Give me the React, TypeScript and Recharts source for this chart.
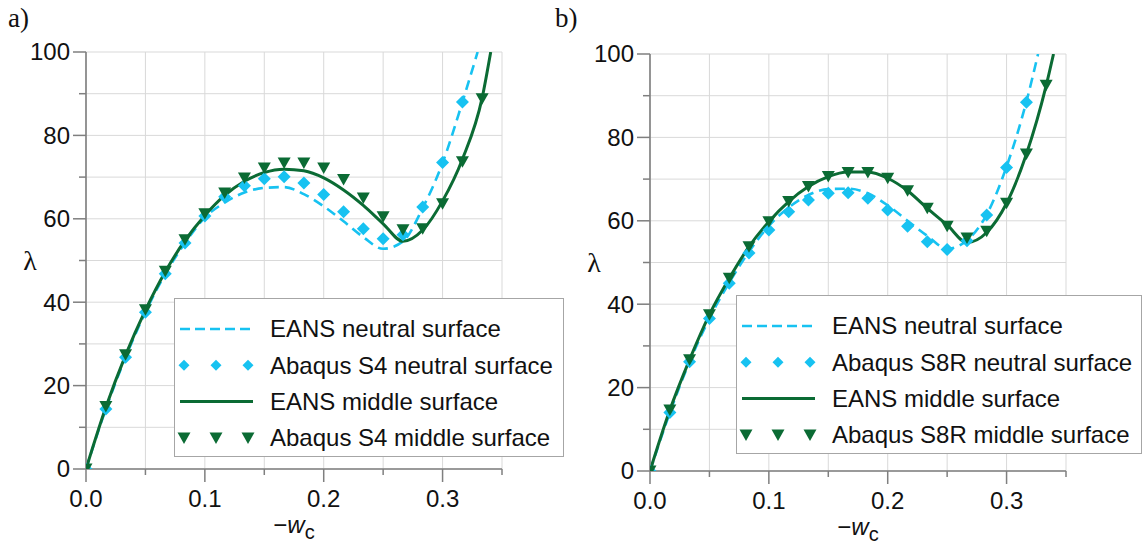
import React from 'react';
import { ComposedChart, Line, Scatter, XAxis, YAxis, CartesianGrid, Legend } from 'recharts';

// -w_c positions of the Abaqus increments
const wSteps = [0, 0.0167, 0.0333, 0.05, 0.0667, 0.0833, 0.1, 0.1167, 0.1333, 0.15, 0.1667,
  0.1833, 0.2, 0.2167, 0.2333, 0.25, 0.2667, 0.2833, 0.3, 0.3167, 0.3333];
const wTicks = [0, 0.05, 0.1, 0.15, 0.2, 0.25, 0.3, 0.35];
const lambdaTicks = [0, 10, 20, 30, 40, 50, 60, 70, 80, 90, 100];

// a) S4
const eansNeutralA = [0, 14.4, 26.8, 37.6, 46.8, 54.2, 60.3, 63.9, 66.3, 67.4, 67.6, 65.9, 63.0, 59.4, 55.6, 52.8, 54.6, 62.6, 73.4, 88.0];
const eansNeutralEndA = 0.3295;
const eansMiddleA = [0, 14.8, 27.3, 38.1, 47.3, 54.8, 60.8, 65.6, 69.0, 71.1, 71.9, 71.5, 69.8, 66.9, 63.2, 58.8, 54.6, 57.3, 64.3, 74.3, 89.0];
const eansMiddleEndA = 0.3405;
const abaqusNeutralA = [0, 14.4, 26.8, 37.6, 46.8, 54.2, 60.7, 65.3, 67.9, 69.6, 70.1, 68.6, 65.8, 61.7, 57.6, 55.2, 56.2, 62.8, 73.5, 88.0];
const abaqusMiddleA = [0, 15.0, 27.4, 38.2, 47.4, 55.0, 61.2, 66.2, 69.8, 72.2, 73.4, 73.4, 72.2, 69.4, 65.0, 60.5, 57.4, 57.6, 63.6, 73.7, 88.8];

// b) S8R
const eansNeutralB = [0, 14.0, 26.2, 36.6, 45.2, 52.6, 58.8, 63.2, 66.2, 67.6, 67.7, 66.6, 63.7, 60.0, 56.4, 53.3, 55.3, 61.5, 73.0, 88.6];
const eansNeutralEndB = 0.3265;
const eansMiddleB = [0, 14.6, 26.7, 37.5, 46.2, 53.8, 59.8, 64.6, 68.2, 70.6, 71.7, 71.7, 70.2, 67.2, 63.0, 59.0, 54.8, 57.2, 64.2, 76.0, 92.4];
const eansMiddleEndB = 0.3395;
const abaqusNeutralB = [0, 14.0, 26.2, 36.6, 45.0, 52.3, 57.8, 62.2, 65.0, 66.6, 66.7, 65.4, 62.6, 58.7, 55.0, 53.1, 55.2, 61.4, 72.8, 88.4];
const abaqusMiddleB = [0, 14.6, 26.7, 37.5, 46.2, 53.8, 59.8, 64.6, 68.2, 70.6, 71.6, 71.6, 70.2, 67.2, 63.0, 58.7, 55.9, 57.5, 64.2, 76.0, 92.5];

const CYAN = '#17c2f1';
const GREEN = '#0b6b34';
const AXIS = '#7f7f7f';
const FONT = '"Liberation Sans", Arial, sans-serif';

const points = (ys: number[]) => ys.map((y, i) => ({ w: wSteps[i], lambda: y }));
const curve = (ys: number[], endW: number) => [...points(ys), { w: endW, lambda: 100 }];

const Diamond = ({ cx, cy, size = 6.5, fill = CYAN }: any) => (
  <polygon points={`${cx},${cy - size} ${cx + size},${cy} ${cx},${cy + size} ${cx - size},${cy}`} fill={fill} />
);
const DownTriangle = ({ cx, cy, fill = GREEN }: any) => (
  <polygon points={`${cx - 6.5},${cy - 5.5} ${cx + 6.5},${cy - 5.5} ${cx},${cy + 6}`} fill={fill} />
);

const XTick = ({ x, y, payload }: any) => {
  const v = payload.value;
  const major = Math.abs(v * 10 - Math.round(v * 10)) < 1e-6;
  return (
    <g>
      <line x1={x} y1={y} x2={x} y2={y + (major ? 13 : 6)} stroke={AXIS} strokeWidth={1.5} />
      {major && (
        <text x={x} y={y + 38} textAnchor="middle" fontSize={24} fontFamily={FONT} fill="#111">
          {v.toFixed(1)}
        </text>
      )}
    </g>
  );
};

const YTick = ({ x, y, payload }: any) => {
  const v = payload.value;
  const major = v % 20 === 0;
  return (
    <g>
      <line x1={x} y1={y} x2={x - (major ? 13 : 7)} y2={y} stroke={AXIS} strokeWidth={1.5} />
      {major && (
        <text x={x - 16} y={y} dy="0.35em" textAnchor="end" fontSize={24} fontFamily={FONT} fill="#111">
          {v}
        </text>
      )}
    </g>
  );
};

const XTitle = ({ viewBox }: any) => {
  const cx = viewBox.x + viewBox.width / 2;
  const y = viewBox.y + 64;
  return (
    <text x={cx} y={y} textAnchor="middle" fontSize={24} fontFamily={FONT} fill="#111">
      <tspan>−</tspan>
      <tspan fontStyle="italic">w</tspan>
      <tspan fontSize={20} dy={6}>c</tspan>
    </text>
  );
};

const YTitle = ({ viewBox }: any) => {
  const x = viewBox.x + viewBox.width - 56;
  const y = viewBox.y + viewBox.height / 2;
  return (
    <text x={x} y={y} dy="0.35em" textAnchor="middle" fontSize={28} fontFamily='"Liberation Serif", serif' fill="#111">
      λ
    </text>
  );
};

const LegendBox = ({ element }: { element: string }) => {
  const rows = [
    { name: 'EANS neutral surface', kind: 'dash' },
    { name: `Abaqus ${element} neutral surface`, kind: 'diamond' },
    { name: 'EANS middle surface', kind: 'line' },
    { name: `Abaqus ${element} middle surface`, kind: 'triangle' },
  ];
  const width = element === 'S4' ? 390 : 406;
  return (
    <svg width={width} height={160} style={{ display: 'block' }}>
      <rect x={0.5} y={0.5} width={width - 1} height={158} fill="#fff" stroke="#a6a6a6" strokeWidth={1} />
      {rows.map((r, i) => {
        const cy = 31 + i * 36.3;
        return (
          <g key={r.name}>
            {r.kind === 'dash' && <line x1={6} x2={79} y1={cy} y2={cy} stroke={CYAN} strokeWidth={2.5} strokeDasharray="10 5" />}
            {r.kind === 'line' && <line x1={6} x2={79} y1={cy} y2={cy} stroke={GREEN} strokeWidth={3} />}
            {r.kind === 'diamond' && [10, 42, 74].map((cx) => <Diamond key={cx} cx={cx} cy={cy} size={5.5} />)}
            {r.kind === 'triangle' && [10, 42, 74].map((cx) => <DownTriangle key={cx} cx={cx} cy={cy} />)}
            <text x={96} y={cy} dy="0.35em" fontSize={24} fontFamily={FONT} fill="#111">{r.name}</text>
          </g>
        );
      })}
    </svg>
  );
};

type PanelProps = {
  label: string;
  element: string;
  left: number;
  width: number;
  margin: { top: number; right: number; bottom: number; left: number };
  legendPos: { left: number; top: number };
  neutral: any[];
  middle: any[];
  neutralPts: any[];
  middlePts: any[];
};

function Panel(p: PanelProps) {
  return (
    <div style={{ position: 'absolute', left: p.left, top: 0, width: p.width, height: 548 }}>
      <ComposedChart width={p.width} height={548} margin={p.margin}>
        <CartesianGrid stroke="#d9d9d9" strokeWidth={1} />
        <XAxis
          dataKey="w"
          type="number"
          domain={[0, 0.35]}
          ticks={wTicks}
          interval={0}
          tickSize={0}
          tickMargin={0}
          tickLine={false}
          tick={<XTick />}
          stroke={AXIS}
          strokeWidth={1.6}
          height={40}
          allowDataOverflow
          label={<XTitle />}
        />
        <YAxis
          dataKey="lambda"
          type="number"
          domain={[0, 100]}
          ticks={lambdaTicks}
          interval={0}
          tickSize={0}
          tickMargin={0}
          tickLine={false}
          tick={<YTick />}
          stroke={AXIS}
          strokeWidth={1.6}
          width={60}
          allowDataOverflow
          label={<YTitle />}
        />
        <Line data={p.neutral} dataKey="lambda" type="monotone" stroke={CYAN} strokeWidth={2.6}
          strokeDasharray="10 6" dot={false} activeDot={false} isAnimationActive={false} />
        <Scatter data={p.neutralPts} dataKey="lambda" fill={CYAN}
          shape={(s: any) => <Diamond cx={s.cx} cy={s.cy} />} isAnimationActive={false} />
        <Line data={p.middle} dataKey="lambda" type="monotone" stroke={GREEN} strokeWidth={3}
          dot={false} activeDot={false} isAnimationActive={false} />
        <Scatter data={p.middlePts} dataKey="lambda" fill={GREEN}
          shape={(s: any) => <DownTriangle cx={s.cx} cy={s.cy} />} isAnimationActive={false} />
        <Legend
          layout="vertical"
          align="center"
          verticalAlign="middle"
          wrapperStyle={{ left: p.legendPos.left, top: p.legendPos.top, width: 'auto', height: 'auto' }}
          content={() => <LegendBox element={p.element} />}
        />
      </ComposedChart>
    </div>
  );
}

export default function App() {
  return (
    <div style={{ position: 'absolute', left: 0, top: 0, width: 1143, height: 548, background: '#fff', overflow: 'hidden' }}>
      <Panel
        label="a)"
        element="S4"
        left={0}
        width={560}
        margin={{ top: 52, right: 58, bottom: 39, left: 26 }}
        legendPos={{ left: 174, top: 298 }}
        neutral={curve(eansNeutralA, eansNeutralEndA)}
        middle={curve(eansMiddleA, eansMiddleEndA)}
        neutralPts={points(abaqusNeutralA)}
        middlePts={points(abaqusMiddleA)}
      />
      <Panel
        label="b)"
        element="S8R"
        left={560}
        width={583}
        margin={{ top: 54, right: 77, bottom: 37, left: 30 }}
        legendPos={{ left: 176, top: 295 }}
        neutral={curve(eansNeutralB, eansNeutralEndB)}
        middle={curve(eansMiddleB, eansMiddleEndB)}
        neutralPts={points(abaqusNeutralB)}
        middlePts={points(abaqusMiddleB)}
      />
      <div style={{ position: 'absolute', left: 8, top: 3, fontFamily: '"Liberation Serif", serif', fontSize: 27, lineHeight: '30px', color: '#111' }}>a)</div>
      <div style={{ position: 'absolute', left: 555, top: 3, fontFamily: '"Liberation Serif", serif', fontSize: 27, lineHeight: '30px', color: '#111' }}>b)</div>
    </div>
  );
}
